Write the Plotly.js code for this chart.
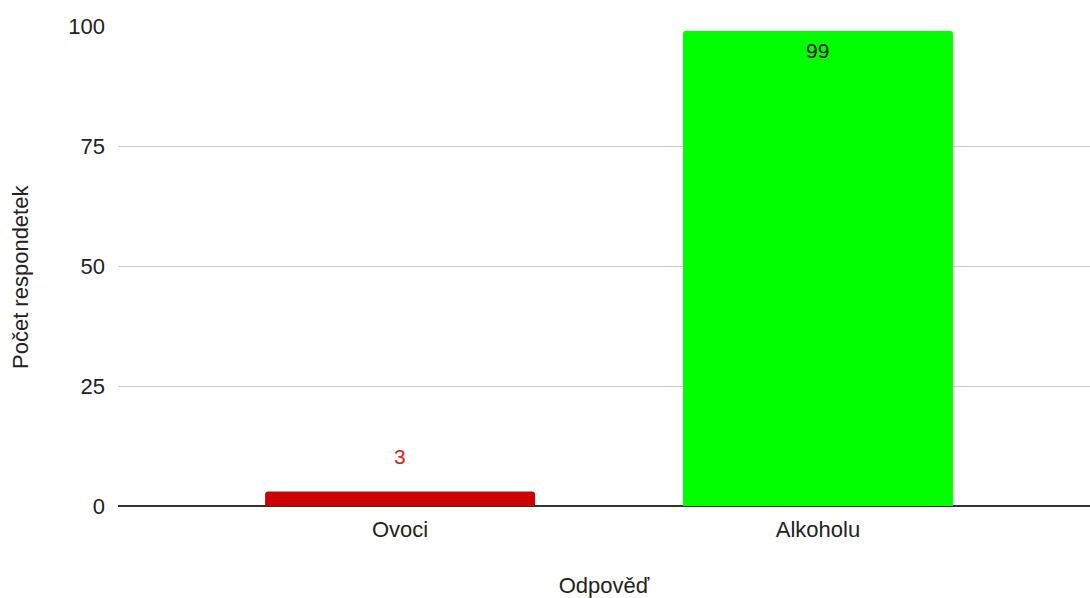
<!DOCTYPE html>
<html><head><meta charset="utf-8">
<script src="https://cdn.plot.ly/plotly-3.0.1.min.js"></script>
<style>html,body{margin:0;padding:0;background:#fff}</style>
</head><body>
<div id="chart" style="width:1090px;height:598px"></div>
<script>
const categories = ["Ovoci", "Alkoholu"];
const values = [3, 99];
const barColors = ["#cc0000", "#00ff00"];
const labelColors = ["#dd2222", "#111111"];
const labelShift = [35, -20];
const yTicks = [0, 25, 50, 75, 100];
const xTitle = "Odpověď";
const yTitle = "Počet respondetek";

const FONT = "'Liberation Sans', Arial, sans-serif";
const FS = 22;

const trace = {
  type: "bar",
  x: categories,
  y: values,
  marker: {color: barColors, cornerradius: 3, line: {width: 0}},
  width: 0.646,
  hoverinfo: "x+y"
};

const annotations = categories.map((c, i) => ({
  x: c, y: values[i], xref: "x", yref: "y",
  text: String(values[i]), showarrow: false,
  yanchor: "middle", yshift: labelShift[i],
  font: {family: FONT, size: 21, color: labelColors[i]}
}));

annotations.push({
  xref: "paper", yref: "paper",
  x: -98 / 972, y: 0.5, xanchor: "center", yanchor: "middle",
  yshift: -11,
  text: yTitle, textangle: -90, showarrow: false,
  font: {family: FONT, size: FS, color: "#222"}
});

const layout = {
  width: 1090, height: 598,
  margin: {l: 118, r: 0, t: 25.5, b: 91.5},
  paper_bgcolor: "#fff", plot_bgcolor: "#fff",
  showlegend: false,
  font: {family: FONT, size: FS, color: "#222"},
  xaxis: {
    type: "category",
    range: [-0.675, 1.651],
    showgrid: false,
    showline: false,
    ticks: "",
    ticklabelstandoff: 8,
    tickfont: {family: FONT, size: FS, color: "#222"},
    title: {text: xTitle, font: {family: FONT, size: FS, color: "#222"}, standoff: 36}
  },
  yaxis: {
    range: [0, 100],
    tickvals: yTicks,
    ticktext: yTicks.map(String),
    showgrid: true, gridcolor: "#cccccc", gridwidth: 1,
    zeroline: true, zerolinecolor: "#333333", zerolinewidth: 2,
    showline: false,
    ticks: "",
    ticklabelstandoff: 12,
    tickfont: {family: FONT, size: FS, color: "#222"}
  },
  annotations: annotations
};

Plotly.newPlot("chart", [trace], layout, {displayModeBar: false, staticPlot: true});
</script>
</body></html>
